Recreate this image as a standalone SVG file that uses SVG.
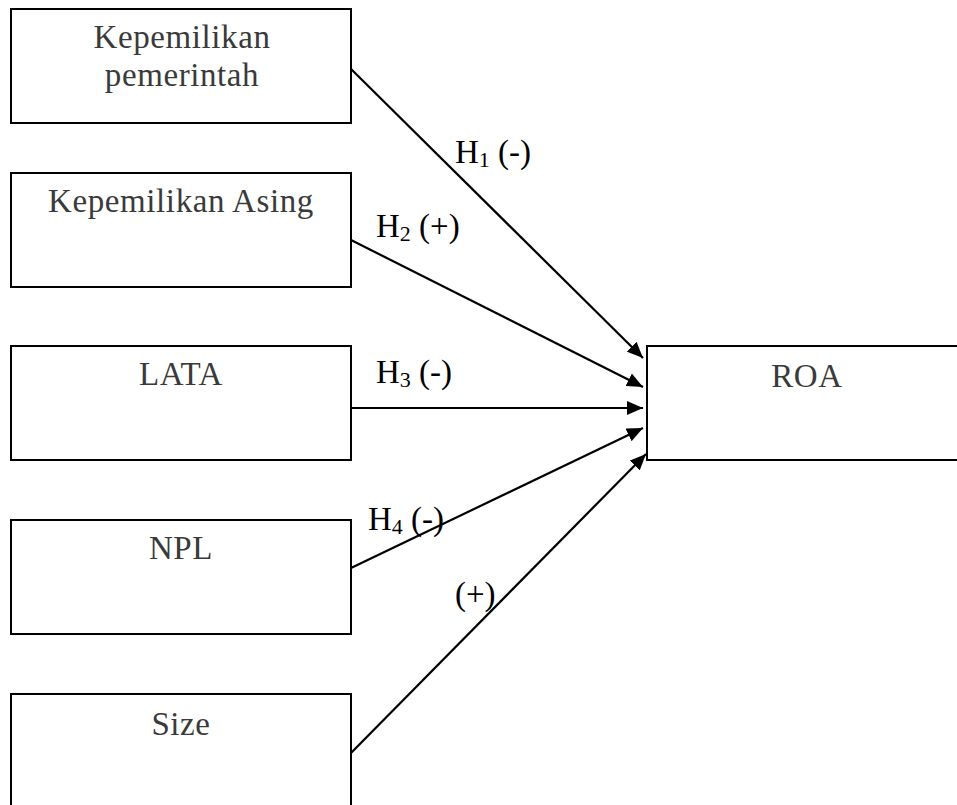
<svg xmlns="http://www.w3.org/2000/svg" width="957" height="805" viewBox="0 0 957 805">
<style>
.box{fill:#fff;stroke:#000;stroke-width:2}
.nt{font-family:"Liberation Serif","Times New Roman",serif;font-size:33px;letter-spacing:0.6px;fill:#3a3a3a;text-anchor:middle}
.lb{font-family:"Liberation Serif","Times New Roman",serif;font-size:33px;fill:#000}
.sub{font-size:22px}
.edge{stroke:#000;stroke-width:2.2;fill:none;marker-end:url(#arr)}
</style>
<defs>
<marker id="arr" markerUnits="userSpaceOnUse" markerWidth="18" markerHeight="14" refX="16" refY="7" orient="auto">
<path d="M0,0 L16,7 L0,14 Z" fill="#000"/>
</marker>
</defs>
<rect width="957" height="805" fill="#fff"/>
<g id="n1"><rect class="box" x="11" y="9" width="340" height="114"/><text class="nt" x="182" y="48">Kepemilikan</text><text class="nt" x="182" y="86">pemerintah</text></g>
<g id="n2"><rect class="box" x="11" y="173" width="340" height="114"/><text class="nt" x="181" y="212">Kepemilikan Asing</text></g>
<g id="n3"><rect class="box" x="11" y="346" width="340" height="114"/><text class="nt" x="181" y="385">LATA</text></g>
<g id="n4"><rect class="box" x="11" y="520" width="340" height="114"/><text class="nt" x="181" y="559">NPL</text></g>
<g id="n5"><rect class="box" x="11" y="694" width="340" height="130"/><text class="nt" x="181" y="735">Size</text></g>
<g id="roa"><rect class="box" x="647" y="346" width="330" height="114"/><text class="nt" x="807" y="387">ROA</text></g>
<g id="connectors">
<line class="edge" x1="351" y1="69" x2="643" y2="358"/>
<line class="edge" x1="351" y1="240" x2="643" y2="387"/>
<line class="edge" x1="351" y1="408" x2="643" y2="408"/>
<line class="edge" x1="351" y1="568" x2="643" y2="428"/>
<line class="edge" x1="351" y1="753" x2="646" y2="454"/>
</g>
<g id="labels">
<text class="lb" x="455" y="163">H<tspan class="sub" dy="4">1</tspan><tspan dy="-4"> (-)</tspan></text>
<text class="lb" x="376" y="237">H<tspan class="sub" dy="4">2</tspan><tspan dy="-4"> (+)</tspan></text>
<text class="lb" x="376" y="383">H<tspan class="sub" dy="4">3</tspan><tspan dy="-4"> (-)</tspan></text>
<text class="lb" x="368" y="530">H<tspan class="sub" dy="4">4</tspan><tspan dy="-4"> (-)</tspan></text>
<text class="lb" x="455" y="605">(+)</text>
</g>
</svg>
